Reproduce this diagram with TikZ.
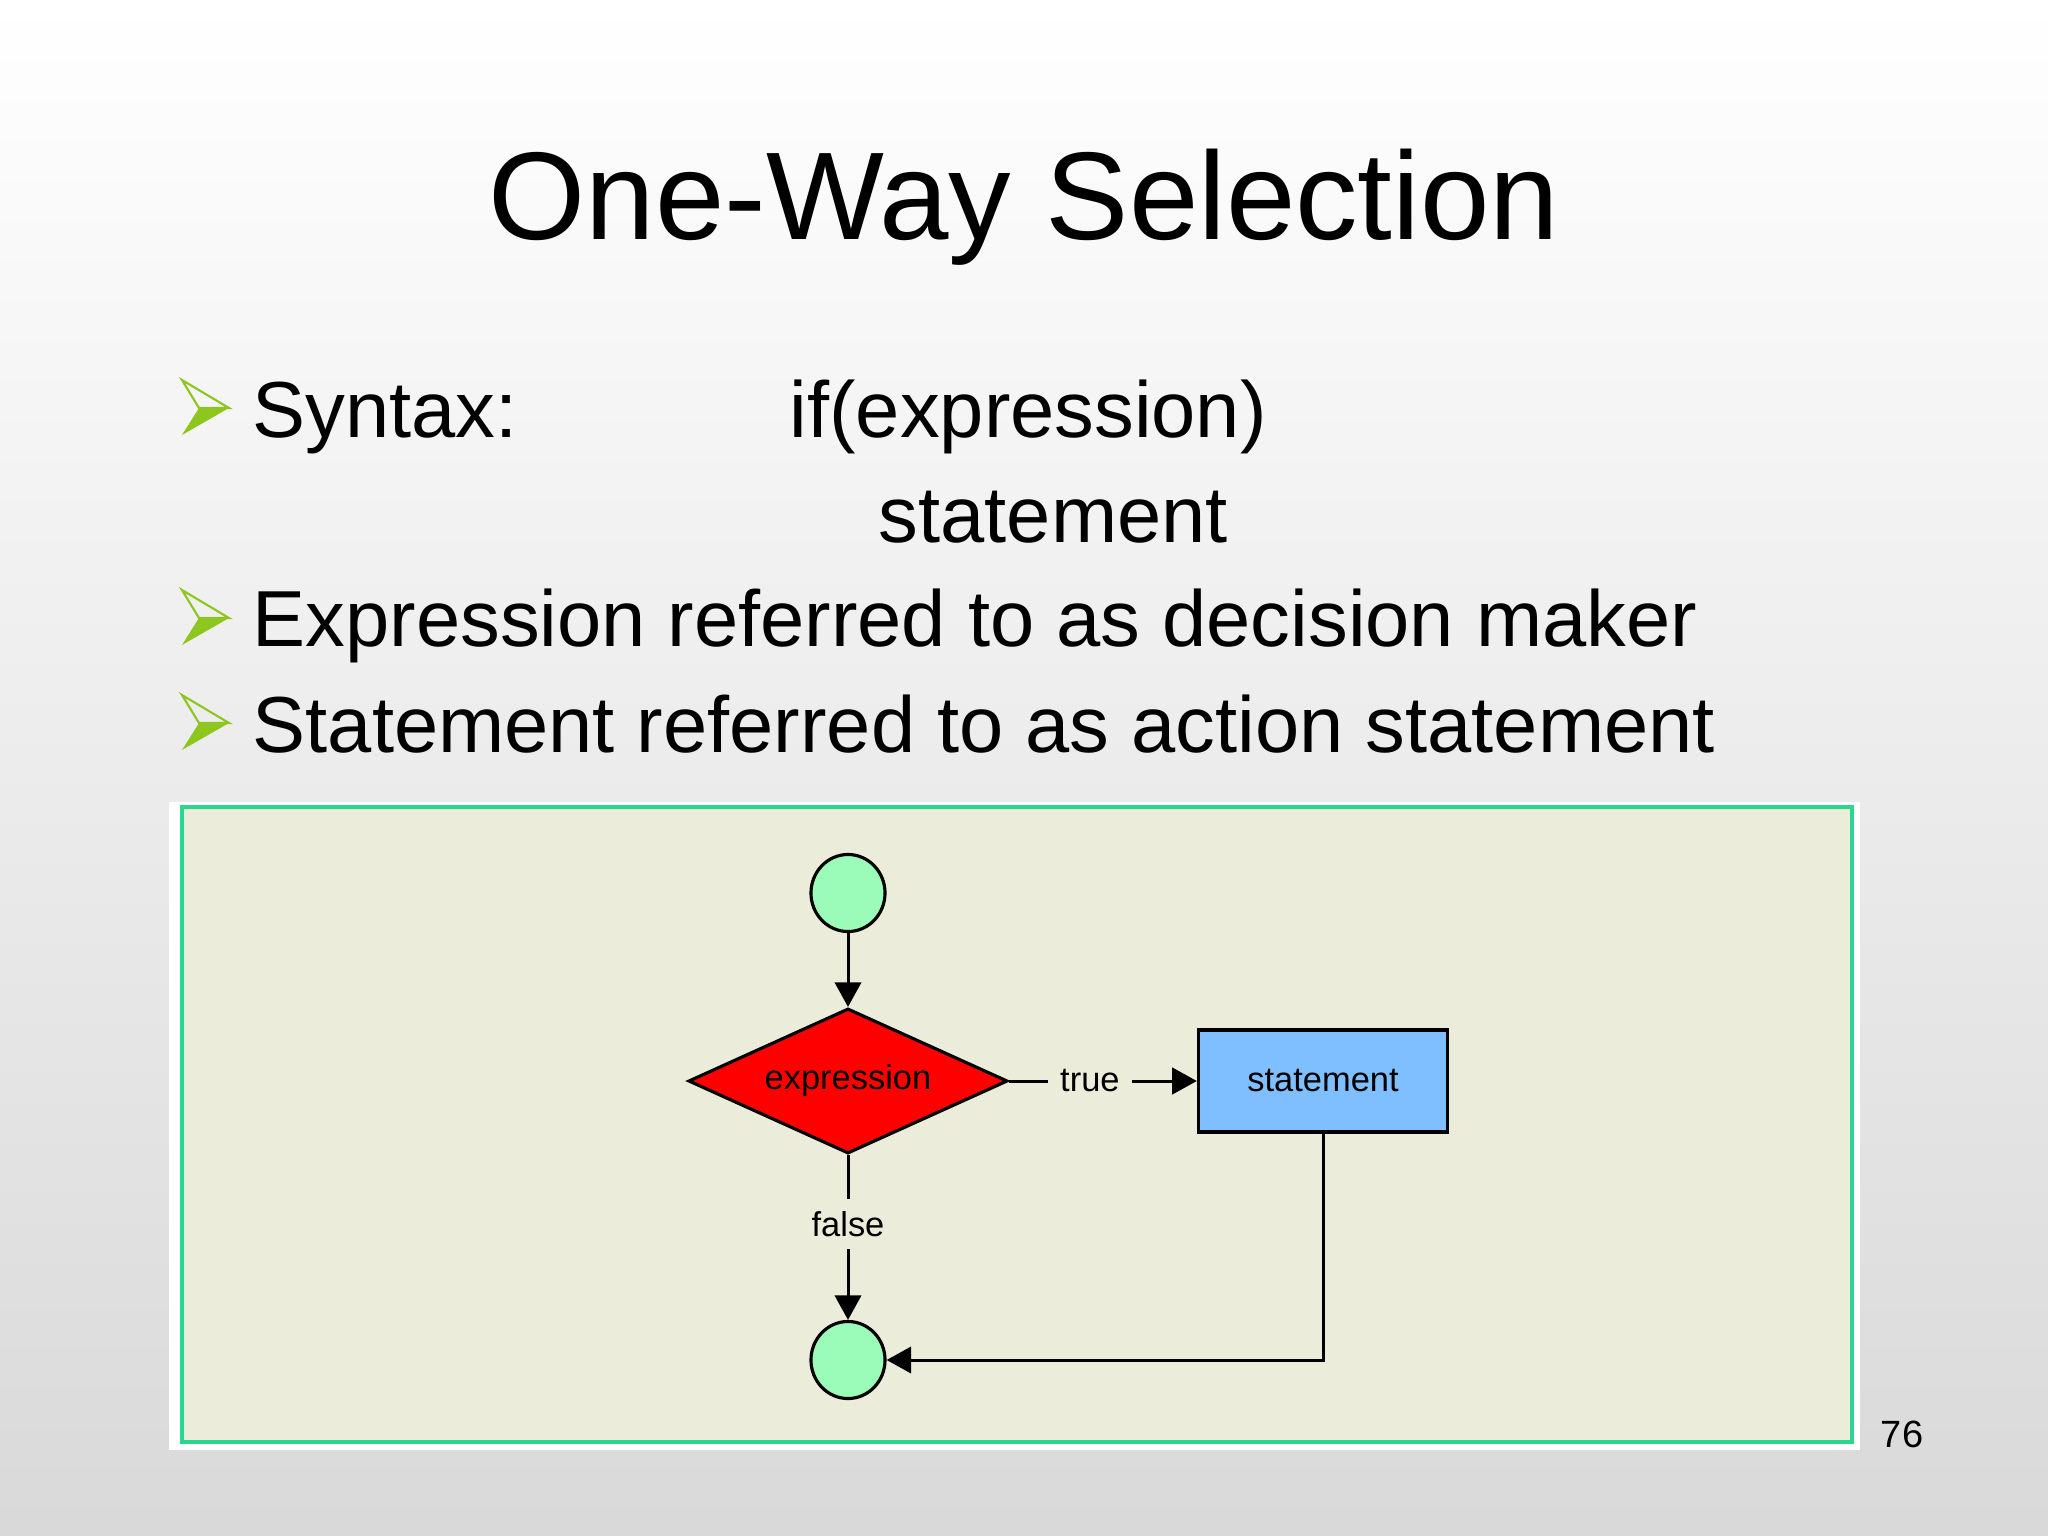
\documentclass[tikz,border=0pt]{standalone}
\usepackage{fontspec}
\setmainfont{Liberation Sans}
\usepackage{tikz}
\usetikzlibrary{arrows.meta,shapes.geometric,positioning,calc}
\usepackage{xcolor}
\definecolor{panelbg}{RGB}{236,236,218}
\definecolor{panelline}{RGB}{40,216,140}
\definecolor{bulletgreen}{RGB}{140,198,30}
\definecolor{termgreen}{RGB}{155,252,185}
\definecolor{stmtblue}{RGB}{128,191,255}

\begin{document}
\begin{tikzpicture}[x=0.01cm, y=-0.01cm,
    bullettext/.style={anchor=base west, inner sep=0pt, font=\fontsize{22.6}{27}\selectfont},
    terminal/.style={ellipse, draw, line width=0.9pt, fill=termgreen, minimum width=0.74cm, minimum height=0.77cm, inner sep=0pt},
    flowline/.style={line width=0.85pt, -{Triangle[width=7.5pt,length=7pt]}},
    flowlabel/.style={fill=panelbg, inner sep=3.5pt, font=\fontsize{9.8}{11}\selectfont}
  ]
    % Hintergrund
    \useasboundingbox (0,0) rectangle (2048,1536);
    \shade[top color=white, middle color=black!4, bottom color=black!15] (0,0) rectangle (2048,1536);

    % Titel
    \node[anchor=base, font=\fontsize{35.5}{42}\selectfont] (title) at (1024,239) {One-Way Selection};

    % Aufzaehlungspfeile
    \foreach \by in {408,618,723} {
        \fill[bulletgreen] (199,\by) -- (229,\by) -- (182,\by+27) -- cycle;
        \draw[bulletgreen, line width=0.6pt, line join=miter] (182,\by-28) -- (229,\by) -- (199,\by) -- cycle;
    }

    % Text
    \node[bullettext] (syntax) at (252,437) {Syntax:};
    \node[bullettext] (ifexpr) at (789,437) {if(expression)};
    \node[bullettext] (ifstmt) at (878,542) {statement};
    \node[bullettext] (exprline) at (252,646) {Expression referred to as decision maker};
    \node[bullettext] (stmtline) at (252,752) {Statement referred to as action statement};

    % Diagrammfeld
    \fill[white] (169,802) rectangle (1860,1450);
    \draw[panelline, fill=panelbg, line width=1.15pt] (182,807) rectangle (1852,1442);

    % Flussdiagramm
    \node[terminal] (start) at (848,893) {};
    \node[diamond, draw, fill=red, line width=0.9pt, minimum width=3.19cm, minimum height=1.45cm,
          aspect=2.2, inner sep=0pt, font=\fontsize{9.8}{11}\selectfont] (expr) at (848,1081) {expression};
    \node[draw, fill=stmtblue, line width=0.9pt, minimum width=2.49cm, minimum height=1.02cm,
          font=\fontsize{9.8}{11}\selectfont] (stmt) at (1323,1081) {statement};
    \node[terminal] (stop) at (848,1360) {};

    \draw[flowline] (start) -- (expr);
    \draw[flowline] (expr) -- node[flowlabel, pos=0.43] {true} (stmt);
    \draw[flowline] (expr) -- node[flowlabel, pos=0.42] {false} (stop);
    \draw[flowline] (stmt.south) |- (stop);

    % Seitenzahl
    \node[anchor=base, font=\fontsize{10.8}{13}\selectfont] (pagenum) at (1902,1447) {76};
\end{tikzpicture}
\end{document}
